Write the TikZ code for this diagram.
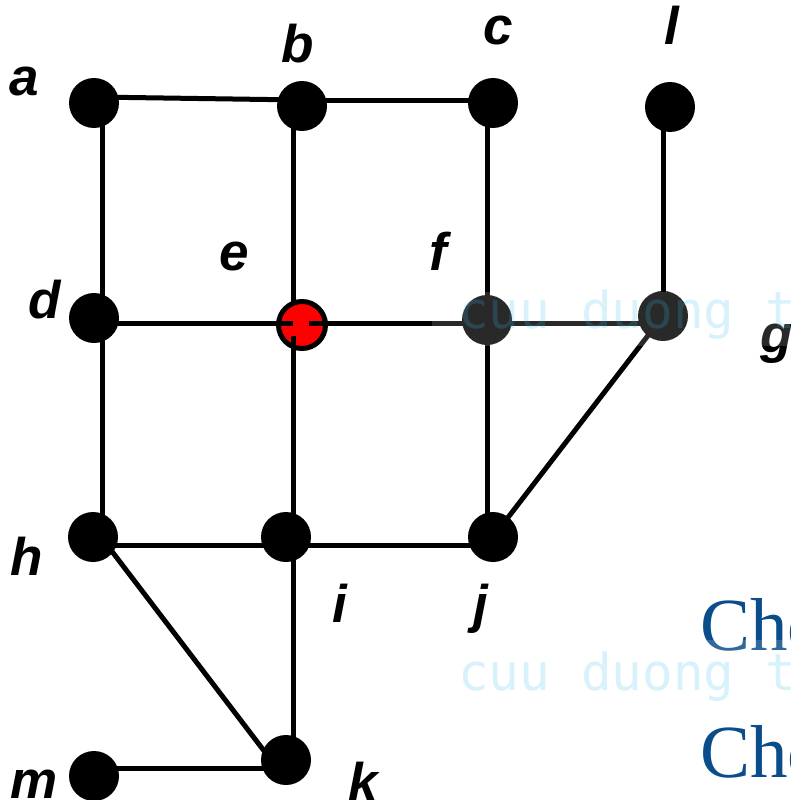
\documentclass[tikz,border=0pt]{standalone}
\usepackage{fontspec}
\setmainfont{Liberation Sans}
\newfontfamily\chfont{Liberation Serif}
\newfontfamily\wmfont{DejaVu Sans Mono}
\definecolor{chblue}{RGB}{10,77,138}
\definecolor{wmblue}{RGB}{60,190,240}
\begin{document}
\begin{tikzpicture}[x=1pt,y=-1pt,
  vtx/.style={circle,fill=black,minimum size=50pt,inner sep=0pt},
  evtx/.style={circle,fill=red,draw=black,line width=5pt,minimum size=47pt,inner sep=0pt},
  edge/.style={line width=5pt},
  lbl/.style={anchor=base,inner sep=0pt,font=\fontsize{53}{60}\selectfont\bfseries\itshape},
  wm/.style={anchor=base west,inner sep=0pt,text=wmblue,text opacity=0.2,font=\fontsize{51}{60}\selectfont\wmfont},
  ch/.style={anchor=base west,inner sep=0pt,text=chblue,font=\fontsize{75}{80}\selectfont\chfont}]
\useasboundingbox (0,0) rectangle (790,800);
\clip (0,0) rectangle (790,800);
\fill[white] (0,0) rectangle (790,800);
% vertices
\node[vtx] (a) at (94,103) {};
\node[vtx] (b) at (302,106) {};
\node[vtx] (c) at (493,103) {};
\node[vtx] (l) at (670,107) {};
\node[vtx] (d) at (94,318) {};
\node[vtx] (f) at (487,320) {};
\node[vtx] (g) at (663,316) {};
\node[vtx] (h) at (93,537) {};
\node[vtx] (i) at (286,537) {};
\node[vtx] (j) at (493,537) {};
\node[vtx] (k) at (286,760) {};
\node[vtx] (m) at (94,776) {};
% edges
\begin{scope}[edge]
\draw ([yshift=6pt]a.center) -- ([yshift=6pt]b.center);
\draw ([yshift=6pt]b.center) -- ([yshift=3pt]c.center);
\draw ([xshift=8pt]a.center) -- ([xshift=8pt]d.center);
\draw ([xshift=8pt]d.center) -- ([xshift=9pt]h.center);
\draw ([xshift=-6pt]c.center) -- (f.center);
\draw (f.center) -- ([xshift=-6pt]j.center);
\draw ([xshift=-7pt]l.center) -- (g.center);
\draw (g.center) -- (j.center);
\draw ([yshift=-8pt]h.center) -- ([yshift=-8pt]i.center);
\draw ([yshift=-8pt]i.center) -- ([yshift=-8pt]j.center);
\draw ([xshift=7pt]i.center) -- ([xshift=7pt]k.center);
\draw ([xshift=8pt]h.center) -- ([xshift=-15pt]k.center);
\draw ([yshift=8pt]m.center) -- ([yshift=-8pt]k.center);
\draw ([yshift=-5pt]d.center) -- ([yshift=-3pt]f.center);
\draw ([yshift=-3pt]f.center) -- ([yshift=-7pt]g.center);
\draw ([xshift=-9pt]b.center) -- ([xshift=7pt]i.center);
\end{scope}
% red vertex e with edge stubs
\node[evtx] (e) at (302,325) {};
\begin{scope}[edge]
\draw ([yshift=2pt]e.west) -- ([xshift=-9pt,yshift=2pt]e.center);
\draw ([xshift=7pt,yshift=2pt]e.center) -- ([yshift=2pt]e.east);
\draw ([xshift=-9pt,yshift=-11pt]e.center) -- ([xshift=-9pt]e.south);
\end{scope}
% labels
\node[lbl] (la) at (24,95) {a};
\node[lbl] (lb) at (298,63) {b};
\node[lbl] (lc) at (498,45) {c};
\node[lbl] (ll) at (672,45) {l};
\node[lbl] (ld) at (45,318) {d};
\node[lbl] (le) at (234,270) {e};
\node[lbl] (lf) at (438,270) {f};
\node[lbl] (lg) at (777,352) {g};
\node[lbl] (lh) at (27,575) {h};
\node[lbl] (li) at (340,622) {i};
\node[lbl] (lj) at (481,622) {j};
\node[lbl] (lm) at (34,798) {m};
\node[lbl] (lk) at (363,800) {k};
% cut-off text
\node[ch] (t1) at (700,650) {Cho};
\node[ch] (t2) at (700,777) {Cho};
% watermarks
\fill[white,opacity=0.16] (432,292) rectangle (790,346);
\node[wm] (w1) at (458,328) {cuu duong t};
\fill[white,opacity=0.16] (456,640) rectangle (790,702);
\node[wm] (w2) at (458,690) {cuu duong t};
\end{tikzpicture}
\end{document}
